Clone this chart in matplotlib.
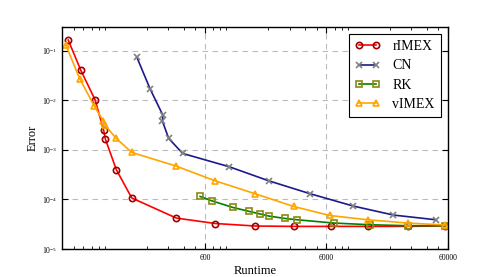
import matplotlib
matplotlib.use("Agg")
import matplotlib.pyplot as plt
from matplotlib.ticker import NullLocator

# runtime / error for each scheme
rimex_t = [45, 57, 75, 88, 91, 112, 150, 350, 731, 1556, 3216, 6577, 13090, 27880, 56640]
rimex_e = [0.164, 0.0407, 0.0101, 0.0025, 0.00165, 3.97e-4, 1.07e-4, 4.2e-5, 3.27e-5,
           2.91e-5, 2.86e-5, 2.86e-5, 2.86e-5, 2.86e-5, 2.93e-5]

cn_t = [165, 212, 271, 268, 302, 394, 952, 2005, 4420, 9960, 21370, 47700]
cn_e = [0.0743, 0.0171, 0.00494, 0.00381, 0.0017, 8.45e-4, 4.56e-4, 2.38e-4, 1.30e-4,
        7.36e-5, 4.84e-5, 3.89e-5]

rk_t = [548, 682, 1017, 1393, 1690, 2020, 2716, 3444, 6900, 13600, 27880, 56640]
rk_e = [1.15e-4, 9.4e-5, 6.9e-5, 5.73e-5, 5.12e-5, 4.62e-5, 4.14e-5, 3.89e-5, 3.34e-5,
        3.09e-5, 2.95e-5, 2.95e-5]

vimex_t = [43, 56, 74, 87, 90, 111, 150, 347, 726, 1556, 3216, 6360, 13090, 27880, 56640]
vimex_e = [0.130, 0.0271, 0.0075, 0.0039, 0.0032, 0.00173, 8.87e-4, 4.71e-4, 2.38e-4,
           1.30e-4, 7.23e-5, 4.75e-5, 3.89e-5, 3.34e-5, 3.05e-5]

xtick_vals = [600, 6000, 60000]
xtick_labels = ["600", "6000", "60000"]

plt.rcParams['font.family'] = ['Liberation Serif', 'DejaVu Serif']
plt.rcParams['mathtext.fontset'] = 'stix'

fig = plt.figure(figsize=(4.98, 2.77), dpi=100)
ax = fig.add_axes([0.1245, 0.101, 0.775, 0.8015])

ms = 4.5
mew = 1.2
ax.plot(rimex_t, rimex_e, '-o', color='red', lw=1.2, ms=ms, mew=mew,
        mec='#a00000', mfc='none', label='rIMEX')
ax.plot(cn_t, cn_e, '-x', color='#1a1a8c', lw=1.2, ms=ms, mew=mew,
        mec='gray', label='CN')
ax.plot(rk_t, rk_e, '-s', color='green', lw=1.2, ms=ms, mew=mew,
        mec='#8a8a10', mfc='none', label='RK')
ax.plot(vimex_t, vimex_e, '-^', color='orange', lw=1.2, ms=ms + 0.5, mew=mew,
        mec='orange', mfc='none', label='vIMEX')

ax.set_xscale('log')
ax.set_yscale('log')
ax.set_xlim(40, 60000)
ax.set_ylim(1e-5, 0.3)
ax.set_xticks(xtick_vals)
ax.set_xticklabels(xtick_labels)
ax.yaxis.set_minor_locator(NullLocator())

ax.grid(True, which='major', ls=(0, (5, 4)), color='#bbbbbb', lw=0.8)
ax.tick_params(which='both', direction='in', top=True, right=True, labelsize=5.5)
ax.tick_params(which='major', length=4)
ax.tick_params(which='minor', length=2.5)
for sp in ax.spines.values():
    sp.set_linewidth(1.0)

ax.set_xlabel('Runtime', fontsize=9, labelpad=2)
ax.set_ylabel('Error', fontsize=9, labelpad=2)

leg = ax.legend(loc='upper right', fontsize=10, fancybox=False, framealpha=1,
                edgecolor='black', handlelength=1.8, borderpad=0.45,
                labelspacing=0.45, numpoints=2, handletextpad=0.9,
                bbox_to_anchor=(1.0, 1.0))
leg.get_frame().set_linewidth(0.8)

fig.savefig('out.png', dpi=100)
